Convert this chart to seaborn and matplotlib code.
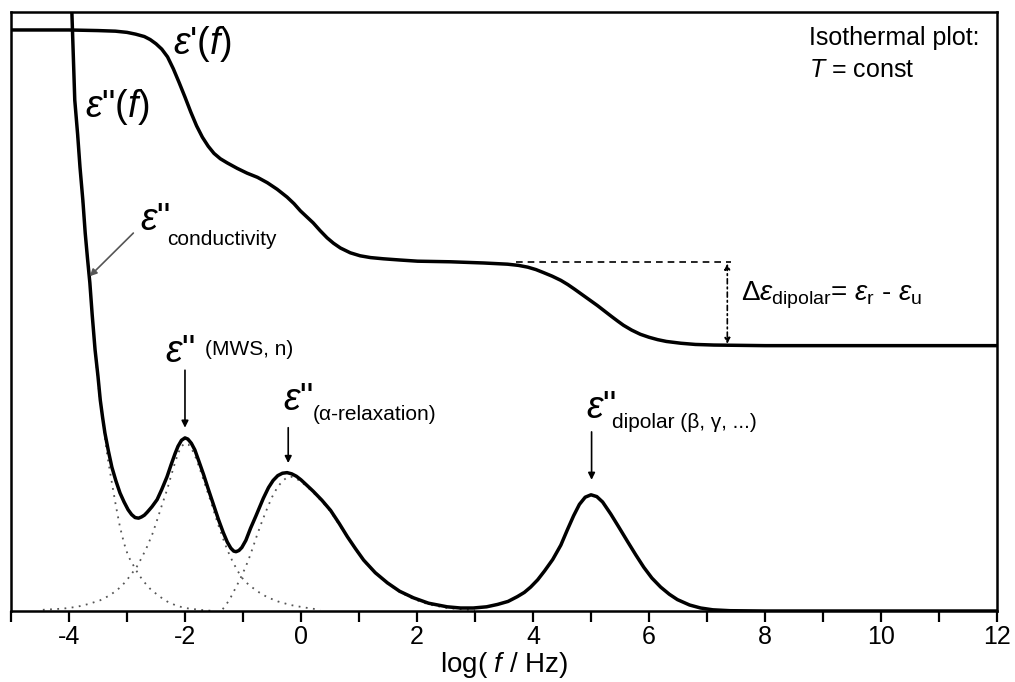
import matplotlib
matplotlib.use("Agg")
import matplotlib.pyplot as plt
import seaborn as sns
import pandas as pd

# ---------------- data ----------------
# real part eps'(f)
eps1_x = [-5.0, -4.0, -3.5, -3.2, -3.0, -2.85, -2.7, -2.6, -2.5, -2.4, -2.3, -2.2,
          -2.1, -2.0, -1.9, -1.8, -1.7, -1.6, -1.5, -1.39, -1.27, -1.1, -0.93, -0.75,
          -0.58, -0.41, -0.24, -0.12, -0.01, 0.1, 0.21, 0.33, 0.45, 0.56, 0.68, 0.85,
          1.02, 1.2, 1.42, 1.7, 2.01, 2.58, 3.15, 3.56, 3.75, 3.91, 4.05, 4.18, 4.33,
          4.48, 4.6, 4.72, 4.85, 4.98, 5.11, 5.23, 5.35, 5.46, 5.56, 5.7, 5.85, 6.0,
          6.15, 6.3, 6.55, 6.8, 7.12, 8.0, 10.0, 12.0]
eps1_y = [97.0, 97.0, 96.9, 96.8, 96.6, 96.3, 95.9, 95.4, 94.7, 93.8, 92.5, 90.5,
          88.2, 85.8, 83.3, 81.0, 79.1, 77.6, 76.4, 75.5, 74.8, 73.9, 73.1, 72.4,
          71.5, 70.4, 69.1, 68.0, 66.8, 65.8, 64.8, 63.5, 62.3, 61.4, 60.6, 59.8,
          59.3, 59.0, 58.8, 58.6, 58.4, 58.3, 58.1, 57.9, 57.7, 57.4, 57.0, 56.5, 55.9,
          55.2, 54.5, 53.7, 52.8, 51.9, 51.0, 50.1, 49.2, 48.4, 47.7, 46.9, 46.2, 45.7,
          45.3, 45.0, 44.7, 44.5, 44.4, 44.3, 44.3, 44.3]

# imaginary part eps''(f), total
eps2_x = [-4.0, -3.95, -3.90, -3.85, -3.81, -3.76, -3.72, -3.68, -3.64, -3.60, -3.55,
          -3.50, -3.46, -3.42, -3.38, -3.32, -3.26, -3.19, -3.12, -3.05, -2.98, -2.92,
          -2.86, -2.80, -2.75, -2.70, -2.65, -2.57, -2.48, -2.40, -2.31, -2.24, -2.17,
          -2.12, -2.06, -2.0, -1.95, -1.89, -1.83, -1.76, -1.68, -1.60, -1.51, -1.42,
          -1.34, -1.27, -1.21, -1.16, -1.12, -1.07, -1.02, -0.95, -0.87, -0.78, -0.65,
          -0.56, -0.48, -0.40, -0.32, -0.24, -0.16, -0.08, 0.0, 0.1, 0.21, 0.36, 0.51,
          0.66, 0.80, 0.94, 1.08, 1.28, 1.49, 1.7, 1.94, 2.2, 2.52, 2.75, 2.97, 3.2,
          3.39, 3.57, 3.73, 3.85, 3.96, 4.08, 4.2, 4.34, 4.48, 4.59, 4.70, 4.80, 4.90,
          5.0, 5.1, 5.2, 5.34, 5.48, 5.63, 5.77, 5.91, 6.05, 6.20, 6.35, 6.49, 6.7,
          6.89, 7.1, 7.4, 8.0, 12.0]
eps2_y = [105.0, 100.0, 85.3, 79.5, 74.1, 68.5, 63.1, 58.8, 54.8, 49.5, 43.6,
          39.2, 35.2, 32.3, 29.7, 26.7, 24.0, 21.7, 19.7, 18.2, 16.9, 16.1,
          15.6, 15.5, 15.7, 16.0, 16.5, 17.4, 18.6, 20.3, 22.4, 24.4, 26.3,
          27.5, 28.5, 28.9, 28.7, 28.0, 26.9, 25.0, 22.8, 20.4, 17.8, 15.2,
          13.1, 11.5, 10.5, 10.0, 9.9, 10.1, 10.6, 11.8, 13.8, 15.8, 18.8,
          20.6, 21.8, 22.6, 23.0, 23.1, 22.9, 22.5, 21.9, 21.0, 20.0, 18.5, 16.8,
          14.6, 12.4, 10.4, 8.5, 6.4, 4.7, 3.3, 2.2, 1.3, 0.7, 0.5, 0.5, 0.7,
          1.1, 1.6, 2.4, 3.1, 4.0, 5.2, 6.7, 8.6, 11.0, 13.5, 15.9, 17.8, 19.0,
          19.4, 19.1, 18.2, 16.2, 14.0, 11.6, 9.4, 7.3, 5.5, 4.0, 2.8, 1.9, 1.0,
          0.5, 0.2, 0.05, 0.0, 0.0]

# dotted component curves
cond_x = [-3.90, -3.81, -3.72, -3.64, -3.55, -3.48, -3.41, -3.34, -3.26, -3.19, -3.12,
          -3.05, -2.98, -2.90, -2.80, -2.70, -2.60, -2.45, -2.31, -2.15, -2.0, -1.75, -1.5]
cond_y = [85.3, 74.1, 63.0, 54.5, 43.3, 36.5, 31.0, 26.0, 21.4, 17.5, 14.0,
          11.3, 9.2, 7.8, 6.1, 4.8, 3.7, 2.5, 1.6, 0.9, 0.5, 0.2, 0.0]

mws_x = [-4.45, -4.1, -3.86, -3.65, -3.46, -3.30, -3.17, -3.08, -3.0, -2.92, -2.83,
         -2.74, -2.65, -2.56, -2.48, -2.40, -2.31, -2.25, -2.18, -2.12, -2.06, -2.0,
         -1.94, -1.88, -1.81, -1.74, -1.66, -1.58, -1.51, -1.42, -1.34, -1.27, -1.19,
         -1.11, -1.03, -0.95, -0.85, -0.72, -0.58, -0.40, -0.18, 0.05, 0.33]
mws_y = [0.2, 0.4, 0.7, 1.2, 1.8, 2.6, 3.5, 4.3, 5.2, 6.2, 7.4,
         9.0, 10.8, 12.9, 15.2, 17.6, 20.2, 22.2, 24.5, 26.3, 27.5, 28.0,
         27.8, 27.0, 25.5, 23.6, 21.3, 19.0, 16.9, 14.2, 12.0, 10.2, 8.5,
         7.0, 5.7, 4.8, 4.0, 3.1, 2.3, 1.6, 1.0, 0.6, 0.2]

alpha_x = [-1.35, -1.28, -1.21, -1.13, -1.05, -0.98, -0.91, -0.84, -0.76, -0.67, -0.58,
           -0.50, -0.41, -0.32, -0.24, -0.16, -0.08, 0.0, 0.1, 0.21, 0.36, 0.51, 0.66,
           0.80, 0.94, 1.08, 1.28, 1.49, 1.7, 1.94, 2.2, 2.52, 3.0]
alpha_y = [0.3, 1.2, 2.3, 3.8, 5.3, 6.8, 8.4, 10.3, 12.6, 15.0, 17.2,
           19.0, 20.6, 21.7, 22.3, 22.4, 22.1, 21.6, 20.8, 19.8, 18.3, 16.6, 14.4,
           12.3, 10.3, 8.4, 6.3, 4.6, 3.2, 2.0, 1.1, 0.5, 0.1]

x_ticks = [-4, -2, 0, 2, 4, 6, 8, 10, 12]
x_label = "log( $f$ / Hz)"

# ---------------- style ----------------
sns.set_theme(style="white")
plt.rcParams["font.family"] = ["Liberation Sans", "DejaVu Sans"]
plt.rcParams["mathtext.fontset"] = "custom"
plt.rcParams["mathtext.rm"] = "Liberation Sans"
plt.rcParams["mathtext.it"] = "Liberation Sans:italic"
plt.rcParams["mathtext.bf"] = "Liberation Sans:bold"
plt.rcParams["axes.unicode_minus"] = False
plt.rcParams["text.color"] = "black"
plt.rcParams["axes.labelcolor"] = "black"
plt.rcParams["xtick.color"] = "black"

fig = plt.figure(figsize=(10.15, 6.82), dpi=100)
ax = fig.add_axes([0.0108, 0.1041, 0.9715, 0.8783])

LW = 2.5
dot_kw = dict(color="#555555", linewidth=1.3, linestyle=(0, (1, 3)))

for xs, ys in [(cond_x, cond_y), (mws_x, mws_y), (alpha_x, alpha_y)]:
    sns.lineplot(data=pd.DataFrame({"x": xs, "y": ys}), x="x", y="y", ax=ax,
                 sort=False, estimator=None, **dot_kw)

sns.lineplot(data=pd.DataFrame({"x": eps1_x, "y": eps1_y}), x="x", y="y", ax=ax,
             sort=False, estimator=None, color="black", linewidth=LW)
sns.lineplot(data=pd.DataFrame({"x": eps2_x, "y": eps2_y}), x="x", y="y", ax=ax,
             sort=False, estimator=None, color="black", linewidth=LW)

ax.set_xlim(-5, 12)
ax.set_ylim(0, 100)
ax.set_xticks(x_ticks)
ax.set_xticks(range(-5, 13), minor=True)
ax.set_yticks([])
ax.set_ylabel("")
ax.set_xlabel(x_label, fontsize=20, labelpad=1)
ax.tick_params(axis="x", which="major", direction="out", length=8, width=1.6,
               labelsize=18, pad=2, bottom=True, labelcolor="black")
ax.tick_params(axis="x", which="minor", direction="out", length=8, width=1.6, bottom=True)
for s in ax.spines.values():
    s.set_linewidth(1.8)
    s.set_color("black")

# ---------------- annotations ----------------
EPS = 27
SUB = 15
ax.text(-2.20, 93.0, r"$\varepsilon$'($f$)", fontsize=EPS, ha="left", va="baseline")
ax.text(-3.72, 82.5, r'$\varepsilon$"($f$)', fontsize=EPS, ha="left", va="baseline")

ax.text(-2.77, 63.6, r'$\varepsilon$"', fontsize=EPS, ha="left", va="baseline")
ax.text(-2.31, 61.1, "conductivity", fontsize=SUB, ha="left", va="baseline")
ax.annotate("", xy=(-3.64, 55.9), xytext=(-2.89, 63.1),
            arrowprops=dict(arrowstyle="-|>", color="#555555", lw=1.2,
                            mutation_scale=10, shrinkA=0, shrinkB=0))

ax.text(-2.34, 41.6, r'$\varepsilon$"', fontsize=EPS, ha="left", va="baseline")
ax.text(-1.65, 42.7, "(MWS, n)", fontsize=SUB, ha="left", va="baseline")
ax.annotate("", xy=(-2.0, 30.6), xytext=(-2.0, 40.2),
            arrowprops=dict(arrowstyle="-|>", color="black", lw=1.2,
                            mutation_scale=10, shrinkA=0, shrinkB=0))

ax.text(-0.31, 33.6, r'$\varepsilon$"', fontsize=EPS, ha="left", va="baseline")
ax.text(0.21, 31.9, "(α-relaxation)", fontsize=SUB, ha="left", va="baseline")
ax.annotate("", xy=(-0.22, 24.7), xytext=(-0.22, 30.6),
            arrowprops=dict(arrowstyle="-|>", color="black", lw=1.2,
                            mutation_scale=10, shrinkA=0, shrinkB=0))

ax.text(4.91, 32.2, r'$\varepsilon$"', fontsize=EPS, ha="left", va="baseline")
ax.text(5.37, 30.6, "dipolar (β, γ, ...)", fontsize=SUB, ha="left", va="baseline")
ax.annotate("", xy=(5.01, 21.9), xytext=(5.01, 29.9),
            arrowprops=dict(arrowstyle="-|>", color="black", lw=1.2,
                            mutation_scale=10, shrinkA=0, shrinkB=0))

ax.text(8.76, 94.5, "Isothermal plot:", fontsize=18, ha="left", va="baseline")
ax.text(8.76, 89.1, r"$T$ = const", fontsize=18, ha="left", va="baseline")

# relaxation strength indicator
ax.plot([3.70, 7.41], [58.3, 58.3], color="black", lw=1.2, linestyle=(0, (4, 3)))
ax.annotate("", xy=(7.35, 44.6), xytext=(7.35, 58.0),
            arrowprops=dict(arrowstyle="<|-|>", color="black", lw=1.2,
                            linestyle=(0, (3, 2, 1, 2)), mutation_scale=8,
                            shrinkA=0, shrinkB=0))
ax.text(7.58, 51.9,
        r"$\Delta\varepsilon_{\mathrm{dipolar}}$= $\varepsilon_{\mathrm{r}}$ - $\varepsilon_{\mathrm{u}}$",
        fontsize=20, ha="left", va="baseline")

fig.savefig("out.png", dpi=100)
